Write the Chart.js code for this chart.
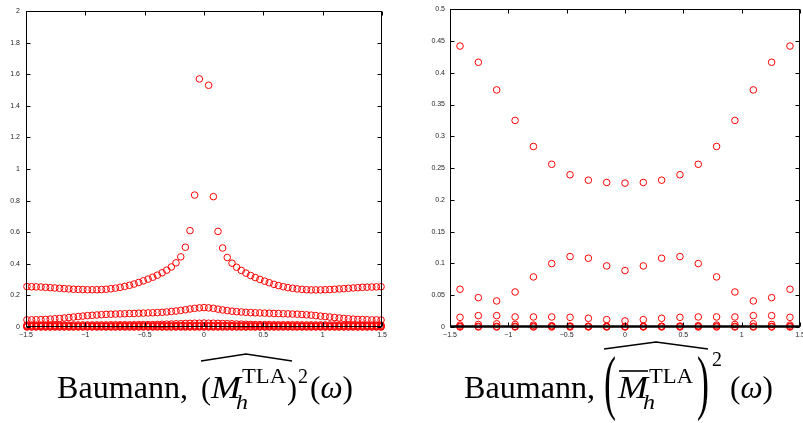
<!DOCTYPE html>
<html>
<head>
<meta charset="utf-8">
<script src="https://cdn.jsdelivr.net/npm/chart.js@4.4.1/dist/chart.umd.min.js"></script>
<style>
  html, body { margin: 0; padding: 0; background: #fff; }
  body { width: 803px; height: 423px; overflow: hidden; position: relative; }
  #left { position: absolute; left: 0; top: 0; }
  #right { position: absolute; left: 400px; top: 0; }
  #titles { position: absolute; left: 0; top: 340px; }
  #titles text { font-family: "Liberation Serif", "DejaVu Serif", serif; fill: #000; }
</style>
</head>
<body>
<canvas id="left" width="400" height="345"></canvas>
<canvas id="right" width="420" height="345"></canvas>
<svg id="titles" width="803" height="83">
  <!-- left caption -->
  <text x="57" y="58" font-size="31" textLength="131" lengthAdjust="spacingAndGlyphs">Baumann,</text>
  <text x="201" y="59" font-size="31" textLength="10" lengthAdjust="spacingAndGlyphs">(</text>
  <text x="211" y="58" font-size="31" font-style="italic" textLength="30" lengthAdjust="spacingAndGlyphs">M</text>
  <text x="242" y="43" font-size="21" textLength="44" lengthAdjust="spacingAndGlyphs">TLA</text>
  <text x="236" y="69" font-size="22" font-style="italic" textLength="12" lengthAdjust="spacingAndGlyphs">h</text>
  <text x="287" y="59" font-size="31" textLength="10" lengthAdjust="spacingAndGlyphs">)</text>
  <text x="298" y="43" font-size="21" textLength="10" lengthAdjust="spacingAndGlyphs">2</text>
  <text x="310" y="58" font-size="31" textLength="43" lengthAdjust="spacingAndGlyphs">(<tspan font-style="italic">ω</tspan>)</text>
  <polyline points="201,21 246,14 292,21" fill="none" stroke="#000" stroke-width="1.3"/>

  <!-- right caption -->
  <text x="464" y="58" font-size="31" textLength="131" lengthAdjust="spacingAndGlyphs">Baumann,</text>
  <text x="604" y="66" font-size="72" textLength="12" lengthAdjust="spacingAndGlyphs">(</text>
  <line x1="619" y1="31" x2="648" y2="31" stroke="#000" stroke-width="1.6"/>
  <text x="618" y="58" font-size="31" font-style="italic" textLength="30" lengthAdjust="spacingAndGlyphs">M</text>
  <text x="649" y="43" font-size="21" textLength="44" lengthAdjust="spacingAndGlyphs">TLA</text>
  <text x="643" y="69" font-size="22" font-style="italic" textLength="12" lengthAdjust="spacingAndGlyphs">h</text>
  <text x="697" y="66" font-size="72" textLength="12" lengthAdjust="spacingAndGlyphs">)</text>
  <text x="712" y="26" font-size="21" textLength="10" lengthAdjust="spacingAndGlyphs">2</text>
  <text x="730" y="58" font-size="31" textLength="43" lengthAdjust="spacingAndGlyphs">(<tspan font-style="italic">ω</tspan>)</text>
  <polyline points="604,9 656,2 708,9" fill="none" stroke="#000" stroke-width="1.3"/>
</svg>

<script>
// frequencies, fine grid (left panel)
const omegaFine = [
  -1.492, -1.453, -1.414, -1.374, -1.335, -1.296, -1.257, -1.217, -1.178, -1.139,
  -1.100, -1.060, -1.021, -0.982, -0.942, -0.903, -0.864, -0.825, -0.785, -0.746,
  -0.707, -0.668, -0.628, -0.589, -0.550, -0.511, -0.471, -0.432, -0.393, -0.353,
  -0.314, -0.275, -0.236, -0.196, -0.157, -0.118, -0.079, -0.039,
  0,
  0.039, 0.079, 0.118, 0.157, 0.196, 0.236, 0.275, 0.314, 0.353, 0.393,
  0.432, 0.471, 0.511, 0.550, 0.589, 0.628, 0.668, 0.707, 0.746, 0.785,
  0.825, 0.864, 0.903, 0.942, 0.982, 1.021, 1.060, 1.100, 1.139, 1.178,
  1.217, 1.257, 1.296, 1.335, 1.374, 1.414, 1.453, 1.492
];

// branches of the symbol, left panel (null = off the scale)
const fineBranch1 = [
  0.256, 0.255, 0.254, 0.253, 0.251, 0.249, 0.247, 0.245, 0.243, 0.241,
  0.239, 0.238, 0.237, 0.236, 0.236, 0.236, 0.237, 0.239, 0.242, 0.246,
  0.251, 0.257, 0.264, 0.272, 0.282, 0.292, 0.303, 0.315, 0.328, 0.343,
  0.360, 0.380, 0.406, 0.444, 0.505, 0.610, 0.835, 1.570,
  null,
  1.530, 0.825, 0.605, 0.500, 0.440, 0.404, 0.378, 0.358, 0.341, 0.326,
  0.313, 0.301, 0.290, 0.280, 0.270, 0.262, 0.255, 0.249, 0.245, 0.241,
  0.238, 0.236, 0.235, 0.235, 0.235, 0.236, 0.237, 0.239, 0.241, 0.243,
  0.245, 0.247, 0.249, 0.251, 0.252, 0.253, 0.254, 0.255
];
const fineBranch2 = [
  0.045, 0.045, 0.046, 0.047, 0.048, 0.050, 0.052, 0.054, 0.057, 0.060,
  0.063, 0.066, 0.069, 0.072, 0.074, 0.076, 0.078, 0.080, 0.081, 0.082,
  0.083, 0.084, 0.085, 0.086, 0.087, 0.088, 0.089, 0.090, 0.091, 0.093,
  0.095, 0.098, 0.101, 0.105, 0.109, 0.114, 0.118, 0.121,
  0.123,
  0.121, 0.118, 0.113, 0.108, 0.104, 0.100, 0.097, 0.095, 0.093, 0.091,
  0.090, 0.089, 0.088, 0.087, 0.086, 0.085, 0.084, 0.083, 0.082, 0.081,
  0.079, 0.077, 0.075, 0.072, 0.069, 0.066, 0.063, 0.060, 0.057, 0.054,
  0.052, 0.050, 0.048, 0.047, 0.046, 0.045, 0.045, 0.044
];
const fineBranch3 = [
  0.012, 0.012, 0.012, 0.012, 0.012, 0.012, 0.012, 0.012, 0.012, 0.012,
  0.013, 0.013, 0.013, 0.013, 0.013, 0.013, 0.013, 0.013, 0.014, 0.014,
  0.014, 0.014, 0.014, 0.014, 0.015, 0.015, 0.015, 0.015, 0.016, 0.017,
  0.018, 0.019, 0.020, 0.021, 0.022, 0.023, 0.024, 0.024,
  0.025,
  0.024, 0.024, 0.023, 0.022, 0.021, 0.020, 0.019, 0.018, 0.017, 0.016,
  0.015, 0.015, 0.015, 0.015, 0.014, 0.014, 0.014, 0.014, 0.014, 0.014,
  0.013, 0.013, 0.013, 0.013, 0.013, 0.013, 0.013, 0.013, 0.012, 0.012,
  0.012, 0.012, 0.012, 0.012, 0.012, 0.012, 0.012, 0.012
];
const fineBranch4 = [
  0.007, 0.007, 0.007, 0.007, 0.007, 0.007, 0.007, 0.007, 0.007, 0.007,
  0.007, 0.007, 0.007, 0.007, 0.007, 0.007, 0.007, 0.007, 0.007, 0.007,
  0.008, 0.008, 0.008, 0.008, 0.008, 0.008, 0.008, 0.008, 0.008, 0.008,
  0.008, 0.008, 0.009, 0.009, 0.009, 0.009, 0.009, 0.009,
  0.009,
  0.009, 0.009, 0.009, 0.009, 0.009, 0.009, 0.008, 0.008, 0.008, 0.008,
  0.008, 0.008, 0.008, 0.008, 0.008, 0.008, 0.008, 0.008, 0.007, 0.007,
  0.007, 0.007, 0.007, 0.007, 0.007, 0.007, 0.007, 0.007, 0.007, 0.007,
  0.007, 0.007, 0.007, 0.007, 0.007, 0.007, 0.007, 0.007
];
const fineBranch5 = [
  0.002, 0.002, 0.002, 0.002, 0.002, 0.002, 0.002, 0.002, 0.002, 0.002,
  0.003, 0.003, 0.003, 0.003, 0.003, 0.003, 0.003, 0.003, 0.003, 0.003,
  0.003, 0.003, 0.003, 0.003, 0.003, 0.003, 0.003, 0.003, 0.003, 0.003,
  0.003, 0.003, 0.003, 0.003, 0.003, 0.003, 0.003, 0.003,
  0.003,
  0.003, 0.003, 0.003, 0.003, 0.003, 0.003, 0.003, 0.003, 0.003, 0.003,
  0.003, 0.003, 0.003, 0.003, 0.003, 0.003, 0.003, 0.003, 0.003, 0.003,
  0.003, 0.003, 0.003, 0.003, 0.003, 0.003, 0.003, 0.003, 0.002, 0.002,
  0.002, 0.002, 0.002, 0.002, 0.002, 0.002, 0.002, 0.002
];
const fineBranch6 = [
  0, 0, 0, 0, 0, 0, 0, 0, 0, 0,
  0, 0, 0, 0, 0, 0, 0, 0, 0, 0,
  0, 0, 0, 0, 0, 0, 0, 0, 0, 0,
  0, 0, 0, 0, 0, 0, 0, 0,
  0,
  0, 0, 0, 0, 0, 0, 0, 0, 0, 0,
  0, 0, 0, 0, 0, 0, 0, 0, 0, 0,
  0, 0, 0, 0, 0, 0, 0, 0, 0, 0,
  0, 0, 0, 0, 0, 0, 0, 0
];

// frequencies, coarse grid (right panel)
const omegaCoarse = [
  -1.414, -1.257, -1.100, -0.942, -0.785, -0.628, -0.471, -0.314, -0.157,
  0,
  0.157, 0.314, 0.471, 0.628, 0.785, 0.942, 1.100, 1.257, 1.414
];
const coarseBranch1 = [0.442, 0.4165, 0.373, 0.325, 0.284, 0.256, 0.2395, 0.231, 0.2274, 0.2264,
                       0.2274, 0.231, 0.2395, 0.256, 0.284, 0.325, 0.373, 0.4165, 0.442];
const coarseBranch2 = [0.0594, 0.0462, 0.041, 0.0551, 0.0788, 0.0998, 0.1108, 0.1082, 0.0961, 0.0888,
                       0.0961, 0.1082, 0.1108, 0.0998, 0.0788, 0.0551, 0.041, 0.0462, 0.0594];
const coarseBranch3 = [0.0152, 0.0179, 0.0179, 0.0158, 0.0158, 0.0158, 0.0152, 0.0137, 0.0116, 0.0095,
                       0.0116, 0.0137, 0.0152, 0.0158, 0.0158, 0.0158, 0.0179, 0.0179, 0.0152];
const coarseBranch4 = [0.003, 0.004, 0.005, 0.004, 0.003, 0.002, 0.0015, 0.001, 0.0008, 0.0005,
                       0.0008, 0.001, 0.0015, 0.002, 0.003, 0.004, 0.005, 0.004, 0.003];
const coarseBranch5 = [0.001, 0.001, 0.001, 0.001, 0.001, 0.001, 0.001, 0.001, 0.001, 0.001,
                       0.001, 0.001, 0.001, 0.001, 0.001, 0.001, 0.001, 0.001, 0.001];
const coarseBranch6 = [0, 0, 0, 0, 0, 0, 0, 0, 0, 0, 0, 0, 0, 0, 0, 0, 0, 0, 0];

// axis ticks
const xTicks = [-1.5, -1, -0.5, 0, 0.5, 1, 1.5];
const yTicksLeft = [0, 0.2, 0.4, 0.6, 0.8, 1, 1.2, 1.4, 1.6, 1.8, 2];
const yTicksRight = [0, 0.05, 0.1, 0.15, 0.2, 0.25, 0.3, 0.35, 0.4, 0.45, 0.5];

function points(xs, ys) {
    const out = [];
    xs.forEach((x, i) => {
        if (ys[i] !== null) out.push({ x: x, y: ys[i] });
    });
    return out;
}

function fmt(v) {
    return String(+v.toFixed(3)).replace('-', '\u2212');
}

// matlab style box with inward ticks on all four sides
const frame = {
    id: 'frame',
    afterDatasetsDraw(chart, args, opts) {
        const ctx = chart.ctx;
        const a = chart.chartArea;
        const xs = chart.scales.x, ys = chart.scales.y;
        const L = Math.round(a.left) + 0.5, R = Math.round(a.right) - 0.5;
        const T = Math.round(a.top) + 0.5, B = Math.round(a.bottom) - 0.5;
        ctx.save();
        ctx.strokeStyle = '#000';
        ctx.lineWidth = 1;
        ctx.strokeRect(L, T, R - L, B - T);
        ctx.beginPath();
        xs.ticks.forEach(t => {
            const px = Math.round(xs.getPixelForValue(t.value)) + 0.5;
            ctx.moveTo(px, B); ctx.lineTo(px, B - 4);
            ctx.moveTo(px, T); ctx.lineTo(px, T + 4);
        });
        ys.ticks.forEach(t => {
            const py = Math.round(ys.getPixelForValue(t.value)) + 0.5;
            ctx.moveTo(L, py); ctx.lineTo(L + 4, py);
            ctx.moveTo(R, py); ctx.lineTo(R - 4, py);
        });
        ctx.stroke();
        if (opts.base) {
            ctx.lineWidth = opts.base;
            ctx.beginPath();
            ctx.moveTo(L, B); ctx.lineTo(R, B);
            ctx.stroke();
        }
        ctx.restore();
    }
};

function makeChart(id, xs, branches, yTicks, yMax, box) {
    const ctx = document.getElementById(id).getContext('2d');
    return new Chart(ctx, {
        type: 'scatter',
        data: {
            datasets: branches.map(b => ({
                data: points(xs, b),
                pointStyle: 'circle',
                pointRadius: 3.3,
                pointBorderWidth: 1,
                borderColor: '#ff0000',
                backgroundColor: 'rgba(0,0,0,0)',
                clip: false
            }))
        },
        options: {
            responsive: false,
            animation: false,
            devicePixelRatio: 1,
            layout: { padding: { top: box.top, right: box.right, left: 0, bottom: 0 } },
            plugins: {
                legend: { display: false },
                tooltip: { enabled: false },
                frame: { base: box.base }
            },
            scales: {
                x: {
                    type: 'linear',
                    min: -1.5, max: 1.5,
                    afterBuildTicks: s => { s.ticks = xTicks.map(v => ({ value: v })); },
                    afterFit: s => { s.height = 18; },
                    grid: { display: false, drawTicks: false },
                    border: { display: false },
                    ticks: {
                        padding: 4,
                        color: '#262626',
                        font: { family: 'Liberation Sans', size: 7 },
                        maxRotation: 0,
                        callback: v => fmt(v)
                    }
                },
                y: {
                    type: 'linear',
                    min: 0, max: yMax,
                    afterBuildTicks: s => { s.ticks = yTicks.map(v => ({ value: v })); },
                    afterFit: s => { s.width = box.left; },
                    grid: { display: false, drawTicks: false },
                    border: { display: false },
                    ticks: {
                        padding: box.pad,
                        color: '#262626',
                        font: { family: 'Liberation Sans', size: 7 },
                        callback: v => fmt(v)
                    }
                }
            }
        },
        plugins: [frame]
    });
}

makeChart('left', omegaFine,
    [fineBranch1, fineBranch2, fineBranch3, fineBranch4, fineBranch5, fineBranch6],
    yTicksLeft, 2, { left: 26, top: 11, right: 18, pad: 6, base: 0 });

makeChart('right', omegaCoarse,
    [coarseBranch1, coarseBranch2, coarseBranch3, coarseBranch4, coarseBranch5, coarseBranch6],
    yTicksRight, 0.5, { left: 50, top: 9, right: 20, pad: 5, base: 2.5 });
</script>
</body>
</html>
